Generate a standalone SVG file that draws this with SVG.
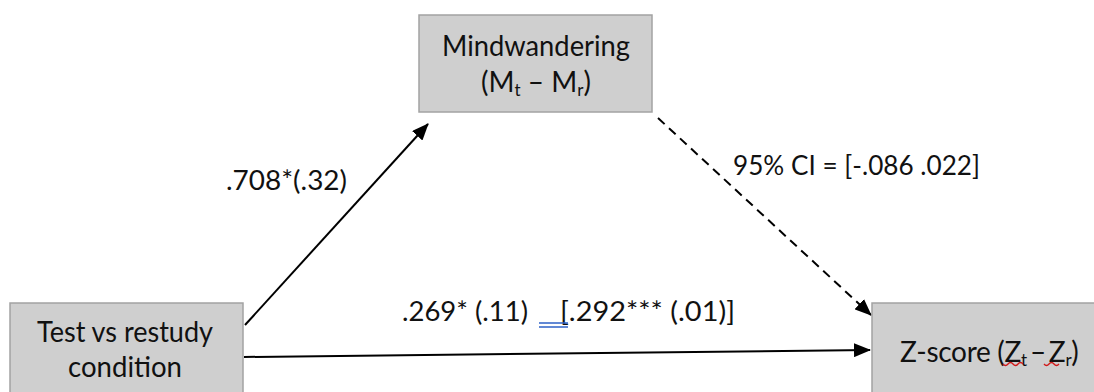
<svg xmlns="http://www.w3.org/2000/svg" width="1094" height="392" viewBox="0 0 1094 392">
<style>
.box{fill:#cfcfcf;stroke:#a3a3a3;stroke-width:1.5}
.t{font-family:Lato,"Open Sans","Liberation Sans",sans-serif;fill:#111}
.bt{font-size:28px}
.lb{font-size:26px}
.edge{stroke:#000;stroke-width:2;fill:none}
.sub{font-size:17px}
</style>
<defs>
<linearGradient id="g" x1="0" y1="0" x2="0" y2="1">
<stop offset="0" stop-color="#d6d6d6"/>
<stop offset="1" stop-color="#c8c8c8"/>
</linearGradient>
<marker id="ah" markerWidth="17" markerHeight="14" refX="16" refY="7" orient="auto" markerUnits="userSpaceOnUse">
<path d="M0,0 L17,7 L0,14 Z" fill="#000"/>
</marker>
</defs>
<rect width="1094" height="392" fill="#fff"/>
<g id="connectors">
<line class="edge" x1="245" y1="325" x2="428" y2="124" marker-end="url(#ah)"/>
<line class="edge" x1="658" y1="118" x2="871" y2="315" stroke-dasharray="9,6" marker-end="url(#ah)"/>
<line class="edge" x1="244" y1="357" x2="870" y2="350" marker-end="url(#ah)"/>
<text class="t lb" x="226" y="190" textLength="121" lengthAdjust="spacingAndGlyphs">.708*(.32)</text>
<text class="t lb" x="733" y="175" textLength="247" lengthAdjust="spacingAndGlyphs">95% CI = [-.086 .022]</text>
<text class="t lb" y="321"><tspan x="402" textLength="126" lengthAdjust="spacingAndGlyphs">.269* (.11)</tspan><tspan x="560" textLength="175" lengthAdjust="spacingAndGlyphs">[.292*** (.01)]</tspan></text>
<path d="M539,323 H568 M539,327 H568" stroke="#2f63c8" stroke-width="1.6"/>
</g>
<g id="node-mind">
<rect class="box" x="419" y="15" width="233" height="97" fill="url(#g)"/>
<text class="t bt" x="536" y="56" text-anchor="middle" textLength="188" lengthAdjust="spacingAndGlyphs">Mindwandering</text>
<text class="t bt" x="536" y="92" text-anchor="middle">(M<tspan class="sub" dy="4">t</tspan><tspan dy="-4"> – M</tspan><tspan class="sub" dy="4">r</tspan><tspan dy="-4">)</tspan></text>
</g>
<g id="node-test">
<rect class="box" x="10" y="303" width="233" height="100" fill="url(#g)"/>
<text class="t bt" x="125" y="342" text-anchor="middle" textLength="176" lengthAdjust="spacingAndGlyphs">Test vs restudy</text>
<text class="t bt" x="125" y="377" text-anchor="middle" textLength="114" lengthAdjust="spacingAndGlyphs">condition</text>
</g>
<g id="node-z">
<rect class="box" x="872" y="303" width="240" height="100" fill="url(#g)"/>
<text class="t bt" x="900" y="362" letter-spacing="-0.3">Z-score (Z<tspan class="sub" dy="4">t</tspan><tspan dy="-4" dx="3">–</tspan><tspan dx="3">Z</tspan><tspan class="sub" dy="4">r</tspan><tspan dy="-4">)</tspan></text>
<path d="M1003,364 q2.5,3 5,0 t5,0 t5,0 t5,0 M1044,364 q2.5,3 5,0 t5,0 t5,0" stroke="#d01818" stroke-width="1.3" fill="none"/>
</g>
</svg>
